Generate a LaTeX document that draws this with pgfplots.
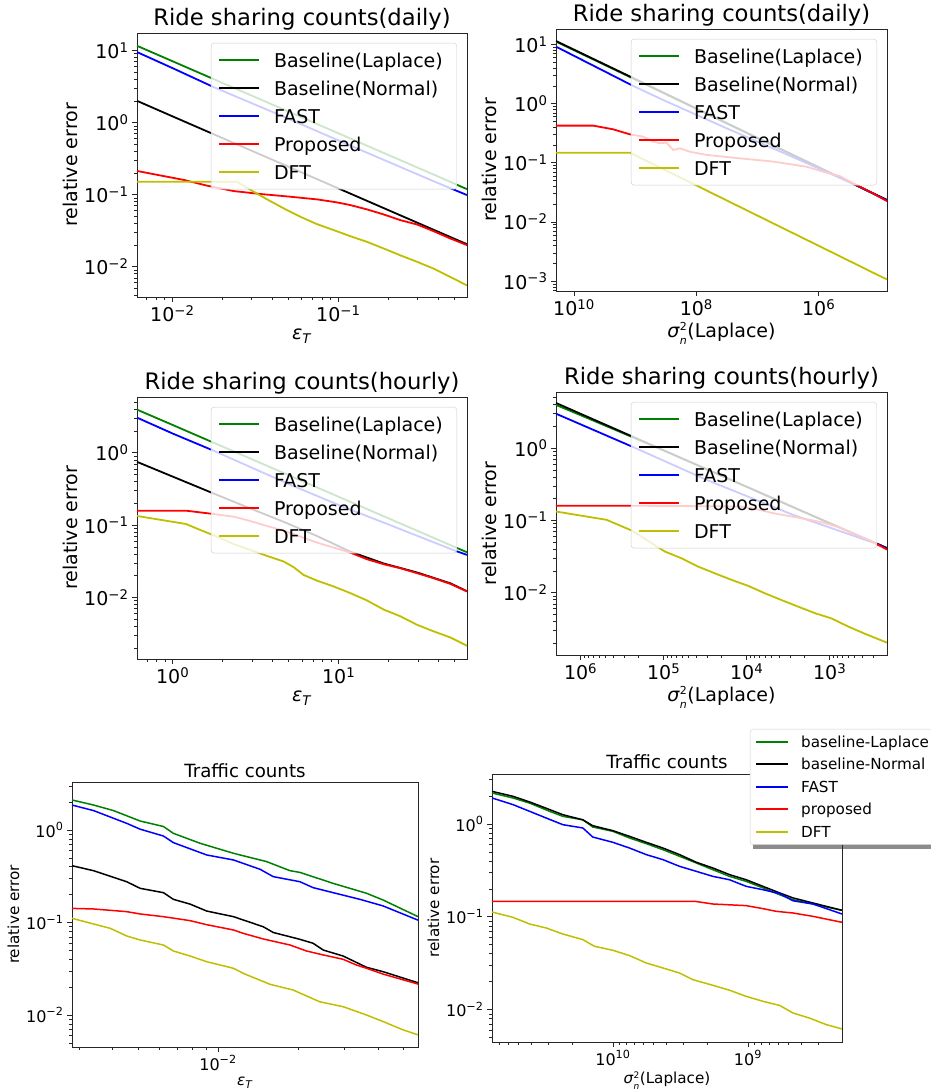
\documentclass[border=0pt]{standalone}
\usepackage{fontspec}
\setmainfont{DejaVu Sans}
\usepackage{pgfplots}
\pgfplotsset{compat=1.18}
\definecolor{mplgreen}{rgb}{0,0.5,0}
\definecolor{mplyellow}{rgb}{0.75,0.75,0}
\newcommand\ft{\fontsize{22.7}{27}\selectfont}
\newcommand\fl{\fontsize{19}{23}\selectfont}
\newcommand\fk{\fontsize{19}{23}\selectfont}
\newcommand\fbt{\fontsize{18.2}{22}\selectfont}
\newcommand\fbl{\fontsize{15.2}{18}\selectfont}
\newcommand\fbk{\fontsize{16}{19}\selectfont}
\newcommand\E[1]{10\textsuperscript{#1}}
\newcommand\epsT{\textit{ε}\textsubscript{\textit{T}}}
\newcommand\sig[1]{\textit{σ}\rlap{\smash{\raisebox{0.34em}{\fontsize{#1}{#1}\selectfont 2}}}\raisebox{-0.37em}{\fontsize{#1}{#1}\selectfont\textit{n}}\kern0.5pt(Laplace)}
\pgfplotsset{
  mpl/.style={
    scale only axis,
    axis line style={black!85,line width=0.8pt},
    tick align=outside, tick pos=left,
    major tick length=5pt, minor tick length=3pt,
    every tick/.style={black!85,line width=0.8pt},
    minor tick style={line width=0.6pt},
    legend cell align=left,
  },
  toprow/.style={mpl,
    every axis title/.style={at={(0.5,1)},anchor=base,yshift=7pt,font=\ft},
    label style={font=\fl}, tick label style={font=\fk},
    every axis plot/.append style={line width=1.8pt},
    legend image code/.code={\draw[##1,line width=2pt] (0pt,0pt) -- (40pt,0pt);},
    legend style={at={(1,1)},anchor=north east,xshift=-10pt,yshift=-10pt,
      draw=black!20,fill=white,fill opacity=0.8,text opacity=1,rounded corners=3pt,
      font=\fl,inner xsep=7pt,inner ysep=3pt,row sep=0pt,
      nodes={inner xsep=7pt,inner ysep=3pt,text height=18pt,text depth=4pt},
      /tikz/every odd column/.append style={column sep=7pt}},
  },
  botrow/.style={mpl,
    every axis title/.style={at={(0.5,1)},anchor=base,yshift=5pt,font=\fbt},
    label style={font=\fbl}, tick label style={font=\fbk},
    every axis plot/.append style={line width=1.5pt},
    legend image code/.code={\draw[##1,line width=2pt] (0pt,0pt) -- (32pt,0pt);},
  },
}
\begin{document}
\begin{tikzpicture}
\path[use as bounding box] (0,0) rectangle (931pt,1090pt);
% legend shadow of the lower right panel
\fill[black!45] (752.5pt,240.8pt) rectangle (945pt,358.2pt);
% ---------------- Axis 1
\begin{loglogaxis}[toprow, at={(137pt,793pt)}, anchor=south west, width=330pt, height=264pt,
  xmin=0.00612, xmax=0.596, ymin=0.0038, ymax=17.46,
  title={Ride sharing counts(daily)}, xlabel={\epsT}, ylabel={relative error},
  xtick={0.01,0.1}, xticklabels={\E{−2},\E{−1}},
  ytick={0.01,0.1,1,10}, yticklabels={\E{−2},\E{−1},\E{0},\E{1}},
  minor xtick={0.007,0.008,0.009,0.02,0.03,0.04,0.05,0.06,0.07,0.08,0.09,0.2,0.3,0.4,0.5},
  minor ytick={0.004,0.005,0.006,0.007,0.008,0.009,0.02,0.03,0.04,0.05,0.06,0.07,0.08,0.09,0.2,0.3,0.4,0.5,0.6,0.7,0.8,0.9,2,3,4,5,6,7,8,9}]
\addplot[mplgreen] coordinates {(0.00612,11.6) (0.01,7.1) (0.02,3.55) (0.05,1.42) (0.1,0.71) (0.2,0.355) (0.4,0.178) (0.596,0.119)};
\addlegendentry{Baseline(Laplace)}
\addplot[black] coordinates {(0.00612,2.0) (0.01,1.22) (0.02,0.61) (0.05,0.244) (0.1,0.122) (0.2,0.061) (0.4,0.0305) (0.596,0.0205)};
\addlegendentry{Baseline(Normal)}
\addplot[blue] coordinates {(0.00612,9.5) (0.01,5.7) (0.01774,3.1) (0.05,1.13) (0.1,0.565) (0.2,0.285) (0.4,0.144) (0.596,0.0986)};
\addlegendentry{FAST}
\addplot[red] coordinates {(0.00612,0.213) (0.00929,0.177) (0.0117,0.160) (0.0162,0.133) (0.0234,0.112) (0.0339,0.102) (0.0514,0.0935) (0.0743,0.0859) (0.0982,0.078) (0.118,0.0716) (0.149,0.0623) (0.1875,0.0531) (0.236,0.0443) (0.298,0.0385) (0.375,0.0311) (0.473,0.0246) (0.596,0.0199)};
\addlegendentry{Proposed}
\addplot[mplyellow] coordinates {(0.00612,0.151) (0.0245,0.151) (0.0309,0.1097) (0.0372,0.0859) (0.0469,0.0644) (0.059,0.0493) (0.0743,0.039) (0.0937,0.0322) (0.118,0.0265) (0.149,0.0221) (0.1875,0.0179) (0.236,0.0144) (0.298,0.0117) (0.375,0.0094) (0.473,0.0072) (0.596,0.0055)};
\addlegendentry{DFT}
\end{loglogaxis}
% ---------------- Axis 2
\begin{loglogaxis}[toprow, at={(556pt,799pt)}, anchor=south west, width=331pt, height=262pt,
  x dir=reverse, xmin=7.66e4, xmax=1.968e10, ymin=6.82e-4, ymax=18.28,
  title={Ride sharing counts(daily)}, xlabel={\sig{11}}, ylabel={relative error},
  xtick={1e6,1e8,1e10}, xticklabels={\E{6},\E{8},\E{10}},
  ytick={0.001,0.01,0.1,1,10}, yticklabels={\E{−3},\E{−2},\E{−1},\E{0},\E{1}},
  minor xtick={},
  minor ytick={0.0007,0.0008,0.0009,0.002,0.003,0.004,0.005,0.006,0.007,0.008,0.009,0.02,0.03,0.04,0.05,0.06,0.07,0.08,0.09,0.2,0.3,0.4,0.5,0.6,0.7,0.8,0.9,2,3,4,5,6,7,8,9}]
\addplot[mplgreen] coordinates {(1.968e10,11.2) (1e9,2.56) (1e8,0.815) (1e7,0.26) (1e6,0.0835) (1e5,0.0267) (7.66e4,0.0234)};
\addlegendentry{Baseline(Laplace)}
\addplot[black] coordinates {(1.968e10,11.46) (1e9,2.61) (1e8,0.830) (1e7,0.264) (1e6,0.0843) (1e5,0.0269) (7.66e4,0.0236)};
\addlegendentry{Baseline(Normal)}
\addplot[blue] coordinates {(1.968e10,9.2) (1.074e9,1.99) (3.47e8,1.15) (3.16e7,0.381) (3.16e6,0.136) (2.75e5,0.0445) (7.66e4,0.0232)};
\addlegendentry{FAST}
\addplot[red] coordinates {(1.968e10,0.425) (4.83e9,0.425) (2.28e9,0.368) (1.219e9,0.303) (7.38e8,0.277) (5.07e8,0.228) (3.94e8,0.214) (3.07e8,0.219) (2.39e8,0.165) (1.858e8,0.176) (1.276e8,0.154) (6.82e7,0.136) (1.95e7,0.119) (5.57e6,0.105) (1.589e6,0.0861) (8.49e5,0.0709) (4.54e5,0.0599) (2.75e5,0.0451) (1.297e5,0.0305) (7.66e4,0.0225)};
\addlegendentry{Proposed}
\addplot[mplyellow] coordinates {(1.968e10,0.1485) (1.219e9,0.1485) (1e9,0.134) (1e8,0.0415) (1e7,0.0128) (1e6,0.00396) (1e5,0.00122) (7.66e4,0.00107)};
\addlegendentry{DFT}
\end{loglogaxis}
% ---------------- Axis 3
\begin{loglogaxis}[toprow, at={(137pt,431pt)}, anchor=south west, width=330pt, height=262pt,
  xmin=0.61, xmax=59.3, ymin=1.41e-3, ymax=5.92,
  title={Ride sharing counts(hourly)}, xlabel={\epsT}, ylabel={relative error},
  xtick={1,10}, xticklabels={\E{0},\E{1}},
  ytick={0.01,0.1,1}, yticklabels={\E{−2},\E{−1},\E{0}},
  minor xtick={0.7,0.8,0.9,2,3,4,5,6,7,8,9,20,30,40,50},
  minor ytick={0.002,0.003,0.004,0.005,0.006,0.007,0.008,0.009,0.02,0.03,0.04,0.05,0.06,0.07,0.08,0.09,0.2,0.3,0.4,0.5,0.6,0.7,0.8,0.9,2,3,4,5}]
\addplot[mplgreen] coordinates {(0.61,3.96) (1,2.43) (2,1.22) (5,0.491) (10,0.247) (20,0.124) (50,0.0499) (59.3,0.0422)};
\addlegendentry{Baseline(Laplace)}
\addplot[black] coordinates {(0.61,0.751) (1.22,0.389) (1.766,0.274) (2.94,0.170) (4.67,0.111) (7.40,0.0708) (11.75,0.043) (18.7,0.0295) (29.6,0.0222) (47.1,0.0157) (59.3,0.0122)};
\addlegendentry{Baseline(Normal)}
\addplot[blue] coordinates {(0.61,3.07) (1,1.85) (1.766,1.07) (5,0.37) (10,0.19) (20,0.102) (50,0.0445) (59.3,0.0388)};
\addlegendentry{FAST}
\addplot[red] coordinates {(0.61,0.158) (1.22,0.158) (1.766,0.1426) (2.33,0.131) (2.94,0.114) (3.70,0.0974) (4.67,0.084) (5.87,0.0694) (7.40,0.0574) (9.33,0.049) (11.75,0.0418) (14.8,0.0338) (18.7,0.0288) (23.5,0.0254) (29.6,0.0217) (37.3,0.0185) (47.1,0.0154) (59.3,0.0121)};
\addlegendentry{Proposed}
\addplot[mplyellow] coordinates {(0.61,0.134) (1.203,0.1038) (1.468,0.0857) (1.85,0.0694) (2.33,0.0549) (2.94,0.0454) (3.70,0.0376) (4.67,0.0314) (5.36,0.0262) (6.15,0.0205) (7.40,0.0171) (9.33,0.0142) (11.75,0.0115) (14.8,0.0091) (18.7,0.0068) (23.5,0.0055) (29.6,0.0042) (37.3,0.0034) (47.1,0.0028) (59.3,0.00215)};
\addlegendentry{DFT}
\end{loglogaxis}
% ---------------- Axis 4
\begin{loglogaxis}[toprow, at={(556pt,435pt)}, anchor=south west, width=331pt, height=263pt,
  x dir=reverse, xmin=204, xmax=1.98e6, ymin=1.37e-3, ymax=5.97,
  title={Ride sharing counts(hourly)}, xlabel={\sig{11}}, ylabel={relative error},
  xtick={1e3,1e4,1e5,1e6}, xticklabels={\E{3},\E{4},\E{5},\E{6}},
  ytick={0.01,0.1,1}, yticklabels={\E{−2},\E{−1},\E{0}},
  minor xtick={300,400,500,600,700,800,900,2000,3000,4000,5000,6000,7000,8000,9000,2e4,3e4,4e4,5e4,6e4,7e4,8e4,9e4,2e5,3e5,4e5,5e5,6e5,7e5,8e5,9e5},
  minor ytick={0.002,0.003,0.004,0.005,0.006,0.007,0.008,0.009,0.02,0.03,0.04,0.05,0.06,0.07,0.08,0.09,0.2,0.3,0.4,0.5,0.6,0.7,0.8,0.9,2,3,4,5}]
\addplot[mplgreen] coordinates {(1.98e6,3.95) (1e6,2.85) (2.32e5,1.40) (1e5,0.925) (1e4,0.29) (1e3,0.091) (204,0.0415)};
\addlegendentry{Baseline(Laplace)}
\addplot[black] coordinates {(1.98e6,4.21) (1e6,2.98) (1e5,0.933) (1e4,0.292) (1e3,0.0916) (204,0.0411)};
\addlegendentry{Baseline(Normal)}
\addplot[blue] coordinates {(1.98e6,2.99) (2.32e5,1.03) (3.05e4,0.364) (2.76e3,0.119) (250,0.0458) (204,0.040)};
\addlegendentry{FAST}
\addplot[red] coordinates {(1.98e6,0.159) (1.93e5,0.159) (1.21e4,0.1555) (7.62e3,0.143) (4.81e3,0.1257) (1.905e3,0.1038) (1.2e3,0.093) (757,0.0795) (301,0.050) (204,0.0395)};
\addlegendentry{Proposed}
\addplot[mplyellow] coordinates {(1.98e6,0.1325) (4.86e5,0.1016) (2.43e5,0.0723) (9.66e4,0.037) (6.10e4,0.0299) (3.84e4,0.0229) (2.42e4,0.0185) (1.52e4,0.0150) (9.59e3,0.0124) (6.05e3,0.0098) (3.81e3,0.0079) (2.40e3,0.0064) (1.51e3,0.0052) (953,0.0044) (601,0.0034) (378,0.0027) (204,0.00203)};
\addlegendentry{DFT}
\end{loglogaxis}
% ---------------- Axis 5
\begin{loglogaxis}[botrow, at={(72pt,43pt)}, anchor=south west, width=346pt, height=265pt,
  xmin=0.00282, xmax=0.0566, ymin=4.51e-3, ymax=3.30,
  title={Traffic counts}, xlabel={\epsT}, ylabel={relative error},
  xtick={0.01}, xticklabels={\E{−2}},
  ytick={0.01,0.1,1}, yticklabels={\E{−2},\E{−1},\E{0}},
  minor xtick={0.003,0.004,0.005,0.006,0.007,0.008,0.009,0.02,0.03,0.04,0.05},
  minor ytick={0.005,0.006,0.007,0.008,0.009,0.02,0.03,0.04,0.05,0.06,0.07,0.08,0.09,0.2,0.3,0.4,0.5,0.6,0.7,0.8,0.9,2,3}]
\addplot[mplgreen] coordinates {(0.00282,2.11) (0.0034,1.86) (0.00404,1.62) (0.00509,1.25) (0.00623,1.09) (0.00679,0.92) (0.00856,0.718) (0.01143,0.56) (0.01524,0.455) (0.01866,0.363) (0.02032,0.348) (0.0271,0.265) (0.03622,0.207) (0.04181,0.175) (0.05662,0.1156)};
\addplot[black] coordinates {(0.00282,0.411) (0.0034,0.363) (0.00453,0.276) (0.00509,0.234) (0.00623,0.21) (0.00679,0.178) (0.00785,0.158) (0.00906,0.133) (0.01143,0.1156) (0.01479,0.090) (0.01614,0.078) (0.02032,0.0658) (0.02281,0.0596) (0.02489,0.0504) (0.02958,0.0434) (0.03622,0.0328) (0.04181,0.0294) (0.05662,0.0223)};
\addplot[blue] coordinates {(0.00282,1.86) (0.0034,1.62) (0.00453,1.18) (0.00509,1.02) (0.00623,0.86) (0.00679,0.73) (0.00906,0.537) (0.01143,0.474) (0.01439,0.376) (0.01614,0.313) (0.02032,0.276) (0.02281,0.238) (0.0342,0.178) (0.04181,0.151) (0.05662,0.106)};
\addplot[red] coordinates {(0.00282,0.142) (0.0034,0.140) (0.00453,0.131) (0.00509,0.1236) (0.00623,0.1156) (0.00785,0.1047) (0.00906,0.0947) (0.01143,0.083) (0.01245,0.0763) (0.01479,0.0664) (0.01866,0.0571) (0.02153,0.0492) (0.02489,0.0446) (0.02958,0.040) (0.03319,0.0347) (0.03622,0.032) (0.04181,0.0277) (0.05662,0.0216)};
\addplot[mplyellow] coordinates {(0.00282,0.111) (0.0034,0.0963) (0.00393,0.0865) (0.00453,0.0715) (0.00509,0.0647) (0.00623,0.0571) (0.00679,0.0492) (0.00785,0.0434) (0.00906,0.0377) (0.01143,0.032) (0.01245,0.0282) (0.01567,0.0215) (0.01919,0.0186) (0.02415,0.0139) (0.02958,0.0123) (0.03622,0.010) (0.04181,0.0085) (0.04977,0.0069) (0.05662,0.0061)};
\end{loglogaxis}
% ---------------- Axis 6
\begin{loglogaxis}[botrow, at={(492pt,48pt)}, anchor=south west, width=350pt, height=268pt,
  x dir=reverse, xmin=2.01e8, xmax=7.87e10, ymin=4.48e-3, ymax=3.46,
  title={Traffic counts}, xlabel={\sig{9}}, ylabel={relative error},
  xtick={1e9,1e10}, xticklabels={\E{9},\E{10}},
  ytick={0.01,0.1,1}, yticklabels={\E{−2},\E{−1},\E{0}},
  minor xtick={3e8,4e8,5e8,6e8,7e8,8e8,9e8,2e9,3e9,4e9,5e9,6e9,7e9,8e9,9e9,2e10,3e10,4e10,5e10,6e10,7e10},
  minor ytick={0.005,0.006,0.007,0.008,0.009,0.02,0.03,0.04,0.05,0.06,0.07,0.08,0.09,0.2,0.3,0.4,0.5,0.6,0.7,0.8,0.9,2,3},
  legend style={at={(1,1)},anchor=north west,xshift=-92pt,yshift=45pt,
      draw=black!20,fill=white,rounded corners=3pt,
      font=\fbl,inner xsep=5pt,inner ysep=1.5pt,row sep=0pt,
      nodes={inner xsep=6pt,inner ysep=2.5pt,text height=14pt,text depth=3.5pt},
      /tikz/every odd column/.append style={column sep=6pt}}]
\addplot[mplgreen] coordinates {(7.87e10,2.16) (5.51e10,1.91) (4.14e10,1.68) (2.94e10,1.37) (2.35e10,1.21) (1.67e10,1.11) (1.41e10,0.929) (1e10,0.834) (7.53e9,0.707) (5.66e9,0.614) (4.26e9,0.529) (3.21e9,0.449) (2.41e9,0.380) (1.82e9,0.322) (1.37e9,0.273) (1.03e9,0.241) (7.74e8,0.205) (5.82e8,0.173) (4.64e8,0.153) (3.30e8,0.1375) (2.01e8,0.1175)};
\addlegendentry{baseline-Laplace}
\addplot[black] coordinates {(7.87e10,2.25) (5.51e10,1.99) (4.14e10,1.73) (2.94e10,1.43) (2.35e10,1.26) (1.67e10,1.11) (1.41e10,0.959) (1e10,0.848) (7.53e9,0.736) (5.66e9,0.635) (4.26e9,0.551) (3.21e9,0.468) (2.41e9,0.387) (1.82e9,0.336) (1.37e9,0.285) (1.03e9,0.251) (7.74e8,0.213) (5.82e8,0.181) (4.64e8,0.160) (3.30e8,0.141) (2.01e8,0.1175)};
\addlegendentry{baseline-Normal}
\addplot[blue] coordinates {(7.87e10,1.91) (5.51e10,1.62) (4.14e10,1.37) (3.12e10,1.16) (2.35e10,0.984) (1.67e10,0.906) (1.41e10,0.724) (1e10,0.635) (7.53e9,0.551) (5.66e9,0.468) (4.26e9,0.413) (3.21e9,0.350) (2.41e9,0.309) (1.82e9,0.273) (1.37e9,0.251) (1.03e9,0.213) (7.74e8,0.196) (5.82e8,0.178) (4.64e8,0.149) (3.30e8,0.1375) (2.01e8,0.1073)};
\addlegendentry{FAST}
\addplot[red] coordinates {(7.87e10,0.147) (2.48e9,0.147) (1.82e9,0.1375) (1.03e9,0.132) (7.74e8,0.1225) (6.17e8,0.1146) (4.64e8,0.110) (3.30e8,0.1012) (2.01e8,0.0873)};
\addlegendentry{proposed}
\addplot[mplyellow] coordinates {(7.87e10,0.1127) (5.51e10,0.0988) (4.14e10,0.0837) (3.12e10,0.0758) (2.35e10,0.0653) (1.67e10,0.0568) (1.37e10,0.0481) (1e10,0.0436) (7.53e9,0.0382) (5.66e9,0.0318) (4.26e9,0.0281) (3.21e9,0.0248) (2.55e9,0.0210) (1.82e9,0.0183) (1.37e9,0.0162) (1.03e9,0.0139) (7.74e8,0.0123) (5.82e8,0.0111) (4.64e8,0.0092) (3.49e8,0.0081) (2.63e8,0.0069) (2.01e8,0.0062)};
\addlegendentry{DFT}
\end{loglogaxis}
\end{tikzpicture}
\end{document}
